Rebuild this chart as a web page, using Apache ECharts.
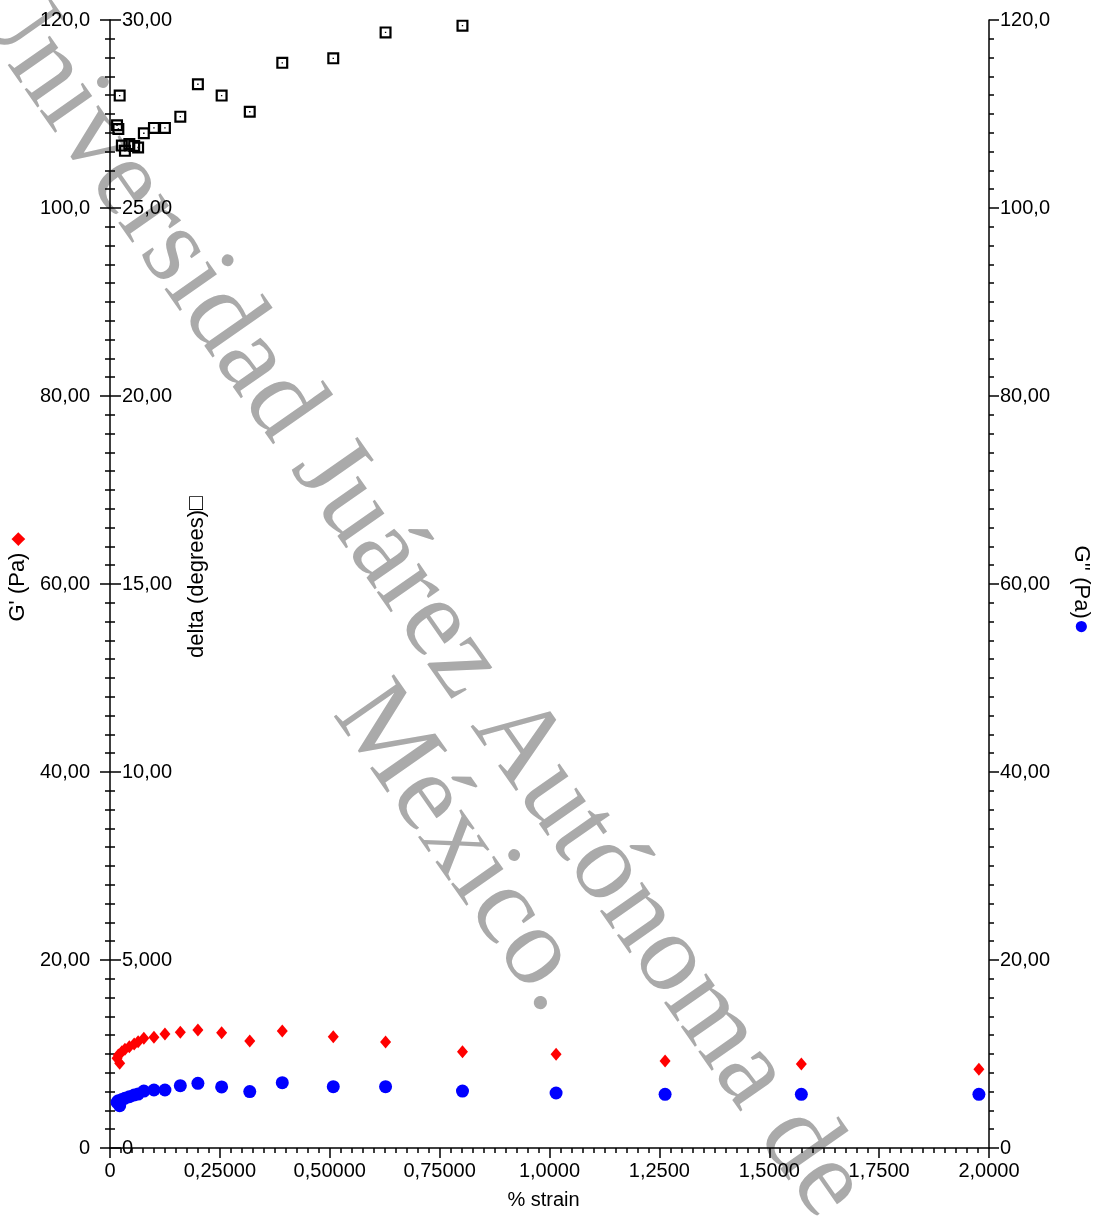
<!DOCTYPE html>
<html>
<head>
<meta charset="utf-8">
<script src="https://cdn.jsdelivr.net/npm/echarts@6/dist/echarts.min.js"></script>
<style>
html,body{margin:0;padding:0;background:#fff;}
#chart{width:1096px;height:1216px;}
</style>
</head>
<body>
<div id="chart"></div>
<script>
// ---- data ----
const strain = [0.016, 0.019, 0.022, 0.027, 0.034, 0.044, 0.055, 0.064, 0.077, 0.100, 0.125, 0.160, 0.200, 0.254, 0.318, 0.392, 0.508, 0.627, 0.802, 1.015, 1.263, 1.573, 1.977];
const gPrime = [9.54, 9.89, 9.01, 10.24, 10.50, 10.78, 11.06, 11.31, 11.67, 11.78, 12.13, 12.31, 12.55, 12.27, 11.38, 12.45, 11.84, 11.28, 10.24, 9.97, 9.26, 8.94, 8.37];
const gDouble = [4.86, 5.03, 4.50, 5.15, 5.29, 5.46, 5.64, 5.74, 6.06, 6.17, 6.17, 6.63, 6.88, 6.50, 6.00, 6.95, 6.52, 6.52, 6.06, 5.85, 5.71, 5.71, 5.71];
const delta = [27.20, 27.10, 27.99, 26.66, 26.52, 26.70, 26.65, 26.61, 26.99, 27.13, 27.13, 27.43, 28.29, 27.99, 27.56, 28.86, 28.98, 29.67, 29.85, null, null, null, null];

const xTickLabels = ['0', '0,25000', '0,50000', '0,75000', '1,0000', '1,2500', '1,5000', '1,7500', '2,0000'];
const gTickLabels = ['0', '20,00', '40,00', '60,00', '80,00', '100,0', '120,0'];
const deltaTickLabels = ['0', '5,000', '10,00', '15,00', '20,00', '25,00', '30,00'];
const g2TickLabels = ['0', '20,00', '40,00', '60,00', '80,00', '100,0', '120,0'];

const watermarkLine1 = 'Universidad Juárez Autónoma de';
const watermarkLine2 = 'México.';

// ---- build ----
function pairs(xs, ys) {
  const out = [];
  for (let i = 0; i < xs.length; i++) if (ys[i] != null) out.push([xs[i], ys[i]]);
  return out;
}
const FONT = 'Liberation Sans, Arial, sans-serif';
const black = '#000';
const ROT = -55 * Math.PI / 180;
const WMFONT = '112px "Liberation Serif", "Times New Roman", serif';

const chart = echarts.init(document.getElementById('chart'), null, {renderer: 'canvas'});
chart.setOption({
  animation: false,
  backgroundColor: '#fff',
  grid: {left: 110, right: 107, top: 20, bottom: 68, containLabel: false, outerBoundsMode: 'none'},
  graphic: {
    elements: [
      {type: 'text', x: -16, y: -20, rotation: ROT, z: -10, silent: true,
       style: {text: watermarkLine1, fill: '#aaaaaa', font: WMFONT, align: 'left', verticalAlign: 'middle'}},
      {type: 'text', x: 356, y: 697, rotation: ROT, z: -10, silent: true,
       style: {text: watermarkLine2, fill: '#aaaaaa', font: WMFONT, align: 'left', verticalAlign: 'middle'}}
    ]
  },
  xAxis: {
    type: 'value', min: 0, max: 2, interval: 0.25,
    name: '% strain', nameLocation: 'middle', nameGap: 42,
    nameTextStyle: {fontFamily: FONT, fontSize: 20, color: black, padding: [0, 12, 0, 0]},
    axisLine: {show: true, lineStyle: {color: black, width: 1.5}},
    axisTick: {show: true, length: 10, lineStyle: {color: black, width: 1.5}},
    minorTick: {show: true, splitNumber: 10, length: 5, lineStyle: {color: black, width: 1.5}},
    splitLine: {show: false},
    axisLabel: {fontFamily: FONT, fontSize: 20, color: black, margin: 13,
      showMinLabel: true, showMaxLabel: true,
      formatter: v => xTickLabels[Math.round(v / 0.25)]}
  },
  yAxis: [
    {
      type: 'value', min: 0, max: 120, interval: 20, position: 'left',
      name: "G' (Pa) {d|◆}", nameLocation: 'middle', nameRotate: 90, nameGap: 80,
      nameTextStyle: {fontFamily: FONT, fontSize: 22, color: black, padding: [0, 0, 0, 14],
        rich: {d: {color: '#ff0000', fontSize: 18}}},
      axisLine: {show: true, lineStyle: {color: black, width: 1.5}},
      axisTick: {show: true, length: 10, lineStyle: {color: black, width: 1.5}},
      minorTick: {show: true, splitNumber: 10, length: 5, lineStyle: {color: black, width: 1.5}},
      splitLine: {show: false},
      axisLabel: {fontFamily: FONT, fontSize: 20, color: black, margin: 20,
        showMinLabel: true, showMaxLabel: true,
        formatter: v => gTickLabels[Math.round(v / 20)]}
    },
    {
      type: 'value', min: 0, max: 30, interval: 5, position: 'left', offset: 0,
      name: 'delta (degrees){s|□}', nameLocation: 'middle', nameRotate: 90, nameGap: -98,
      nameTextStyle: {fontFamily: FONT, fontSize: 22, color: black, padding: [0, 0, 0, 14],
        rich: {s: {color: black, fontSize: 23}}},
      axisLine: {show: false},
      axisTick: {show: true, inside: true, length: 11, lineStyle: {color: black, width: 1.5}},
      minorTick: {show: true, splitNumber: 10, length: 5, lineStyle: {color: black, width: 1.5}},
      splitLine: {show: false},
      axisLabel: {inside: true, fontFamily: FONT, fontSize: 20, color: black, margin: 12,
        showMinLabel: true, showMaxLabel: true,
        formatter: v => deltaTickLabels[Math.round(v / 5)]}
    },
    {
      type: 'value', min: 0, max: 120, interval: 20, position: 'right',
      name: "G'' (Pa){c|●}", nameLocation: 'middle', nameRotate: -90, nameGap: 79,
      nameTextStyle: {fontFamily: FONT, fontSize: 22, color: black, padding: [0, 0, 0, 12],
        rich: {c: {color: '#0000ff', fontSize: 26}}},
      axisLine: {show: true, lineStyle: {color: black, width: 1.5}},
      axisTick: {show: true, length: 10, lineStyle: {color: black, width: 1.5}},
      minorTick: {show: true, splitNumber: 10, length: 5, lineStyle: {color: black, width: 1.5}},
      splitLine: {show: false},
      axisLabel: {fontFamily: FONT, fontSize: 20, color: black, margin: 11,
        showMinLabel: true, showMaxLabel: true,
        formatter: v => g2TickLabels[Math.round(v / 20)]}
    }
  ],
  series: [
    {
      name: 'delta', type: 'scatter', yAxisIndex: 1, z: 3,
      symbol: 'path://M0,0H12V12H0Z M2.2,2.2V9.8H9.8V2.2Z M5.3,5.3H6.7V6.7H5.3Z',
      symbolSize: 12, itemStyle: {color: black, opacity: 1},
      data: pairs(strain, delta)
    },
    {
      name: "G'", type: 'scatter', yAxisIndex: 0, z: 4,
      symbol: 'diamond', symbolSize: [11, 13], itemStyle: {color: '#ff0000', opacity: 1},
      data: pairs(strain, gPrime)
    },
    {
      name: "G''", type: 'scatter', yAxisIndex: 2, z: 4,
      symbol: 'circle', symbolSize: 13, itemStyle: {color: '#0000ff', opacity: 1},
      data: pairs(strain, gDouble)
    }
  ]
});
</script>
</body>
</html>
